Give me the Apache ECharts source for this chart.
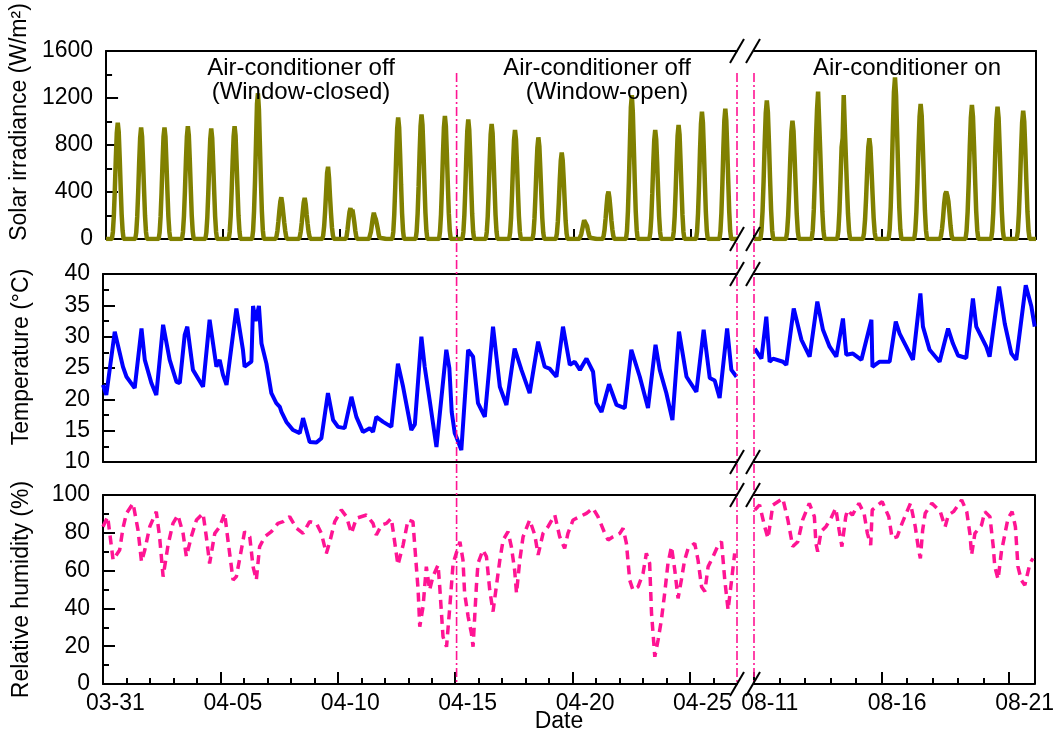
<!DOCTYPE html>
<html>
<head>
<meta charset="utf-8">
<script src="https://cdn.jsdelivr.net/npm/echarts@6/dist/echarts.min.js"></script>
<style>html,body{margin:0;padding:0;background:#fff}#c{width:1057px;height:734px}</style>
</head>
<body>
<div id="c"></div>
<script>
// ---------------- DATA ----------------
// x values are fractional days: left section from 03-31 00:00, right section from 08-11 00:00
const LEFT_DAYS = 27;
const RIGHT_DAYS = 11;
const LEFT_TICKS = [0, 5, 10, 15, 20, 25];
const LEFT_LABELS = ['03-31', '04-05', '04-10', '04-15', '04-20', '04-25'];
const RIGHT_TICKS = [0, 5, 10];
const RIGHT_LABELS = ['08-11', '08-16', '08-21'];
const PHASE_SPLIT_DAY = 15; // window-closed -> window-open

// solar irradiance (W/m2), hourly values 06:00..18:00 per day
const IRR_HOURS = [6, 7, 8, 9, 10, 11, 12, 13, 14, 15, 16, 17, 18];
const irrLeft = [
  [0,60,200,420,680,900,990,910,690,440,210,70,0],
  [0,55,190,400,650,860,950,870,660,420,200,60,0],
  [0,55,190,400,650,870,950,870,650,410,190,60,0],
  [0,60,195,410,660,870,960,880,670,430,200,65,0],
  [0,55,185,395,640,850,940,860,650,415,195,60,0],
  [0,60,195,410,660,870,960,880,660,425,200,65,0],
  [0,70,240,500,820,1150,1240,1100,800,500,240,75,0],
  [0,20,70,150,240,320,355,300,220,140,70,20,0],
  [0,20,65,140,230,310,350,300,210,130,60,20,0],
  [0,30,110,240,400,560,615,520,360,220,100,30,0],
  [0,20,80,160,230,263,220,250,200,140,70,20,0],
  [0,15,60,120,180,224,190,170,130,90,40,10,0],
  [0,60,210,440,710,940,1035,950,720,460,220,70,0],
  [0,65,215,450,730,960,1060,970,740,470,225,70,0],
  [0,65,210,445,720,950,1047,960,730,465,220,70,0],
  [0,60,205,430,700,920,1018,930,710,450,215,65,0],
  [0,60,195,415,670,890,979,900,680,435,205,65,0],
  [0,55,185,390,640,840,928,850,650,410,195,60,0],
  [0,50,175,365,595,780,865,790,600,385,180,55,0],
  [0,45,150,310,505,665,735,670,510,325,155,45,0],
  [0,10,40,80,120,160,176,150,110,70,35,10,0],
  [0,25,80,170,280,370,403,350,260,160,80,25,0],
  [0,70,240,500,810,1120,1225,1080,790,490,235,75,0],
  [0,55,185,390,640,840,928,850,650,410,195,60,0],
  [0,60,195,410,670,880,970,890,670,430,205,60,0],
  [0,65,220,460,750,980,1083,990,750,480,230,70,0],
  [0,65,225,470,770,1010,1110,1010,770,490,235,70,0]
];
const irrRight = [
  [0,70,235,495,810,1070,1180,1080,820,520,250,75,0],
  [0,60,200,420,690,910,1007,920,700,450,215,65,0],
  [0,75,250,520,850,1100,1254,1000,750,480,230,70,0],
  [0,70,240,500,780,860,1225,950,700,450,215,65,0],
  [0,50,170,360,590,780,857,780,590,380,180,55,0],
  [0,80,275,570,930,1250,1376,1220,900,570,270,80,0],
  [0,70,230,480,790,1040,1149,1050,800,510,245,75,0],
  [0,25,85,180,300,380,403,370,320,220,110,30,0],
  [0,70,230,480,785,1030,1140,1040,790,505,240,75,0],
  [0,65,225,470,775,1020,1126,1030,780,500,240,70,0],
  [0,65,220,460,750,990,1092,1000,760,485,230,70,0]
];

// indoor temperature (°C): [day, value]
const tempLeft = [
  [0.00,22.3],[0.14,20.7],[0.50,30.8],[0.85,25.2],[1.00,23.6],[1.35,21.8],[1.64,31.3],[1.78,26.3],
  [2.06,22.6],[2.27,20.7],[2.56,31.9],[2.84,26.3],[3.13,22.8],[3.27,22.6],[3.48,30.3],[3.59,31.6],
  [3.83,24.7],[4.26,22.0],[4.54,32.7],[4.83,25.2],[4.97,26.3],[5.11,23.9],[5.26,22.3],[5.68,34.5],
  [5.96,27.9],[6.03,25.2],[6.32,26.0],[6.39,34.9],[6.50,32.5],[6.64,34.9],[6.75,28.9],[6.96,25.7],
  [7.17,21.0],[7.38,19.4],[7.53,18.8],[7.60,18.0],[7.81,16.4],[8.09,15.1],[8.38,14.6],[8.52,17.0],
  [8.66,15.1],[8.80,13.2],[9.09,13.1],[9.30,13.8],[9.58,21.0],[9.80,16.7],[10.01,15.6],[10.29,15.4],
  [10.58,20.4],[10.79,17.2],[11.07,14.8],[11.36,15.4],[11.50,14.8],[11.64,17.2],[11.93,16.4],[12.28,15.6],
  [12.56,25.7],[12.78,22.0],[13.13,15.1],[13.28,16.0],[13.56,30.0],[13.70,25.2],[13.91,19.9],[14.20,12.4],
  [14.62,27.9],[14.75,25.0],[14.85,18.0],[14.98,14.6],[15.05,14.0],[15.26,11.9],[15.55,27.9],[15.76,26.8],
  [15.97,19.4],[16.26,17.2],[16.61,31.6],[16.90,22.0],[17.18,19.1],[17.53,28.1],[17.82,24.7],[18.17,21.0],
  [18.53,29.2],[18.81,25.2],[19.02,24.9],[19.31,23.6],[19.59,31.6],[19.88,25.5],[20.09,26.0],[20.31,24.7],
  [20.59,26.5],[20.87,24.4],[21.01,19.4],[21.23,18.0],[21.55,22.4],[21.87,19.1],[22.22,18.6],[22.50,27.9],
  [22.86,23.6],[23.21,18.6],[23.53,28.7],[23.71,24.7],[23.99,21.0],[24.25,16.7],[24.53,30.8],[24.85,23.6],
  [25.27,21.2],[25.58,31.1],[25.84,23.4],[26.05,23.0],[26.26,20.2],[26.58,31.3],[26.76,24.7],[26.98,23.6]
];
const tempRight = [
  [0.03,28.1],[0.29,26.5],[0.48,33.2],[0.61,26.0],[0.74,26.5],[1.13,26.0],[1.26,25.5],[1.55,34.5],
  [1.85,29.5],[2.17,26.8],[2.47,35.6],[2.69,31.1],[2.95,28.4],[3.21,26.8],[3.47,32.9],[3.60,27.1],
  [3.86,27.3],[4.19,26.3],[4.58,32.7],[4.62,25.2],[4.90,26.0],[5.29,26.0],[5.53,32.4],[5.68,30.5],
  [5.94,28.4],[6.20,26.3],[6.49,36.9],[6.59,31.6],[6.85,27.9],[7.24,26.0],[7.57,31.3],[7.76,28.9],
  [7.96,27.0],[8.28,26.6],[8.54,36.1],[8.67,31.6],[9.06,28.4],[9.19,26.8],[9.56,38.0],[9.78,32.1],
  [10.04,27.3],[10.23,26.3],[10.60,38.2],[10.82,34.8],[10.95,31.6]
];

// relative humidity (%): [day, value]
const rhLeft = [
  [0.00,83.2],[0.20,88.5],[0.43,65.6],[0.71,70.9],[0.85,82.4],[1.00,90.3],[1.28,95.6],[1.49,81.5],
  [1.64,64.7],[1.78,70.9],[1.99,83.2],[2.27,91.2],[2.41,77.9],[2.56,56.8],[2.77,73.5],[2.98,85.0],
  [3.19,89.4],[3.41,79.7],[3.55,67.4],[3.76,77.9],[3.98,86.8],[4.26,90.3],[4.40,77.9],[4.54,63.8],
  [4.76,79.7],[4.97,83.2],[5.18,90.3],[5.32,76.2],[5.54,55.0],[5.68,56.8],[5.89,70.9],[6.03,80.6],
  [6.25,77.9],[6.39,62.1],[6.53,55.0],[6.67,72.7],[6.89,77.9],[7.17,80.6],[7.45,85.0],[7.67,85.9],
  [7.95,88.5],[8.24,82.4],[8.52,79.7],[8.80,85.9],[9.09,85.0],[9.30,79.7],[9.51,69.1],[9.66,75.3],
  [9.87,85.9],[10.15,92.1],[10.37,88.5],[10.58,79.7],[10.79,87.7],[11.22,89.4],[11.50,85.0],[11.64,78.8],
  [11.86,84.1],[12.07,85.0],[12.28,87.7],[12.42,75.3],[12.56,63.0],[12.78,73.5],[12.99,86.8],[13.20,85.9],
  [13.42,49.7],[13.49,30.3],[13.63,40.9],[13.77,62.1],[13.91,49.7],[14.05,56.8],[14.27,63.0],[14.34,51.5],
  [14.48,25.0],[14.63,19.7],[14.77,40.9],[14.91,63.8],[15.20,75.3],[15.33,65.6],[15.40,48.0],[15.55,35.6],
  [15.69,26.8],[15.76,19.7],[15.90,51.5],[15.97,63.8],[16.18,70.9],[16.33,67.4],[16.47,49.7],[16.61,38.3],
  [16.75,51.5],[16.90,65.6],[17.04,76.2],[17.25,80.6],[17.39,72.7],[17.53,60.3],[17.61,48.0],[17.75,65.6],
  [17.89,77.9],[18.17,86.8],[18.39,78.8],[18.53,68.3],[18.74,79.7],[18.95,83.2],[19.24,89.4],[19.45,77.9],
  [19.66,71.8],[19.80,79.7],[20.02,86.8],[20.30,88.5],[20.59,90.3],[20.87,93.0],[21.08,88.5],[21.37,79.7],
  [21.51,76.2],[21.72,77.9],[22.01,79.7],[22.15,82.4],[22.29,74.4],[22.43,55.0],[22.57,49.7],[22.79,51.5],
  [23.00,58.6],[23.14,69.1],[23.28,63.8],[23.36,37.4],[23.50,14.4],[23.64,23.3],[23.78,33.9],[23.92,48.0],
  [24.06,63.8],[24.21,72.7],[24.35,60.3],[24.49,45.3],[24.63,55.0],[24.77,65.6],[24.92,71.8],[25.20,74.4],
  [25.34,65.6],[25.49,51.5],[25.63,48.9],[25.77,62.1],[25.98,67.4],[26.20,73.5],[26.34,75.3],[26.48,55.0],
  [26.62,39.2],[26.77,55.0],[26.90,69.1]
];
const rhRight = [
  [0.03,92.1],[0.22,94.7],[0.42,83.2],[0.55,77.1],[0.74,94.7],[1.13,98.2],[1.33,86.8],[1.52,72.7],
  [1.72,75.3],[1.91,86.8],[2.17,95.6],[2.37,88.5],[2.43,74.4],[2.50,70.0],[2.63,80.6],[2.82,83.2],
  [3.02,87.7],[3.21,93.0],[3.34,81.5],[3.45,72.7],[3.60,88.5],[3.67,92.1],[3.86,89.4],[4.12,95.6],
  [4.32,90.3],[4.45,79.7],[4.58,73.5],[4.64,92.1],[5.03,96.5],[5.29,88.5],[5.42,77.1],[5.62,77.9],
  [5.81,85.0],[6.14,95.6],[6.33,83.2],[6.46,70.9],[6.53,66.5],[6.62,81.5],[6.72,90.3],[6.98,95.6],
  [7.31,91.2],[7.50,83.2],[7.63,89.4],[7.83,91.2],[8.15,97.4],[8.35,91.2],[8.48,78.8],[8.54,68.3],
  [8.67,79.7],[8.93,84.1],[9.06,91.2],[9.26,88.5],[9.39,72.7],[9.45,62.1],[9.58,55.4],[9.71,70.0],
  [9.84,78.8],[9.97,87.7],[10.13,91.2],[10.26,83.2],[10.36,62.1],[10.49,55.0],[10.63,52.3],[10.83,63.8],
  [10.95,66.5]
];

// ---------------- CHART ----------------
const FONT = "'Liberation Sans', Arial, Helvetica, sans-serif";
const BLACK = '#000';
const OLIVE = '#808000';
const BLUE = '#0000FF';
const PINK = '#FF1493';

const LAYOUT = {
  xL: 103, wL: 634, xR: 754, wR: 282,
  tops: [51, 274, 495], heights: [188, 188, 189]
};

function irrToPoints(days) {
  const pts = [];
  days.forEach((vals, d) => {
    pts.push([d, 0]);
    vals.forEach((v, k) => pts.push([d + IRR_HOURS[k] / 24, v]));
  });
  pts.push([days.length, 0]);
  return pts;
}

const PANELS = [
  { min: 0, max: 1600, interval: 400, name: 'Solar irradiance (W/m\u00B2)', shift: 46,
    left: irrToPoints(irrLeft), right: irrToPoints(irrRight), color: OLIVE, width: 4.5, dash: 'solid', xTickLen: 10 },
  { min: 10, max: 40, interval: 5, name: 'Temperature (\u00B0C)', shift: 22,
    left: tempLeft, right: tempRight, color: BLUE, width: 4, dash: 'solid', xTickLen: 0 },
  { min: 0, max: 100, interval: 20, name: 'Relative humidity (%)', shift: 0,
    left: rhLeft, right: rhRight, color: PINK, width: 3.5, dash: [9, 6], xTickLen: 12 }
];

const axisLine = { show: true, onZero: false, lineStyle: { color: BLACK, width: 2 } };
const tickLine = { color: BLACK, width: 2 };

function minorDays(n) {
  const out = [];
  for (let i = 1; i < n; i++) if (i % 5 !== 0) out.push(i);
  return out;
}

const grids = [], xAxes = [], yAxes = [], series = [];
const bottomAxisIdx = {};

PANELS.forEach((P, p) => {
  [0, 1].forEach(s => {
    const gi = grids.length;
    const isL = s === 0;
    grids.push({
      left: isL ? LAYOUT.xL : LAYOUT.xR,
      width: isL ? LAYOUT.wL : LAYOUT.wR,
      top: LAYOUT.tops[p],
      height: LAYOUT.heights[p],
      containLabel: false
    });
    const maxX = isL ? LEFT_DAYS : RIGHT_DAYS;
    const ticks = isL ? LEFT_TICKS : RIGHT_TICKS;
    const labels = isL ? LEFT_LABELS : RIGHT_LABELS;
    const lblOff = isL ? 0.53 : 0.62;
    const lblPos = ticks.map(t => t + lblOff);

    bottomAxisIdx[p + '_' + s] = xAxes.length;
    xAxes.push({
      type: 'value', gridIndex: gi, min: 0, max: maxX, position: 'bottom',
      axisLine: axisLine, splitLine: { show: false },
      axisTick: P.xTickLen ? { show: true, inside: true, length: P.xTickLen, customValues: ticks, lineStyle: tickLine } : { show: false },
      axisLabel: p === 2 ? {
        show: true, customValues: lblPos, color: BLACK, fontSize: 23, fontFamily: FONT, margin: 8,
        formatter: v => {
          let best = 0, bd = 1e9;
          lblPos.forEach((q, i) => { const d = Math.abs(q - v); if (d < bd) { bd = d; best = i; } });
          return labels[best];
        }
      } : { show: false }
    });
    xAxes.push({
      type: 'value', gridIndex: gi, min: 0, max: maxX, position: 'top',
      axisLine: axisLine, axisTick: { show: false }, axisLabel: { show: false }, splitLine: { show: false }
    });
    if (p === 2) {
      xAxes.push({
        type: 'value', gridIndex: gi, min: 0, max: maxX, position: 'bottom', offset: 0,
        axisLine: { show: false }, axisLabel: { show: false }, splitLine: { show: false },
        axisTick: { show: true, inside: true, length: 6, customValues: minorDays(maxX), lineStyle: tickLine }
      });
    }
    const yIdx = yAxes.length;
    if (isL) {
      yAxes.push({
        type: 'value', gridIndex: gi, min: P.min, max: P.max, interval: P.interval, position: 'left',
        axisLine: axisLine, splitLine: { show: false },
        axisTick: { show: true, inside: true, length: 12, lineStyle: tickLine },
        minorTick: { show: true, splitNumber: 2, length: 6, lineStyle: tickLine },
        minorSplitLine: { show: false },
        axisLabel: { color: BLACK, fontSize: 23, fontFamily: FONT, margin: 13, formatter: v => String(v) },
        name: P.name, nameLocation: 'middle', nameGap: 70,
        nameTextStyle: { color: BLACK, fontSize: 23, fontFamily: FONT, padding: [0, 0, 0, P.shift] }
      });
    } else {
      yAxes.push({
        type: 'value', gridIndex: gi, min: P.min, max: P.max, interval: P.interval, position: 'right',
        axisLine: axisLine, splitLine: { show: false },
        axisTick: { show: false }, axisLabel: { show: false }
      });
    }
    series.push({
      type: 'line', xAxisIndex: bottomAxisIdx[p + '_' + s], yAxisIndex: yIdx,
      data: isL ? P.left : P.right,
      showSymbol: false, symbol: 'none', clip: true, z: 3,
      lineStyle: { color: P.color, width: P.width, type: P.dash },
      animation: false
    });
  });
});

const chart = echarts.init(document.getElementById('c'), null, { renderer: 'canvas' });
chart.setOption({
  animation: false,
  backgroundColor: '#fff',
  textStyle: { fontFamily: FONT },
  grid: grids, xAxis: xAxes, yAxis: yAxes, series: series
});

// ----- decorations positioned from axis scales -----
const ax0 = bottomAxisIdx['0_0'];
const ax1 = bottomAxisIdx['0_1'];
const xSplit = chart.convertToPixel({ xAxisIndex: ax0 }, PHASE_SPLIT_DAY);
const xBreakL = chart.convertToPixel({ xAxisIndex: ax0 }, LEFT_DAYS);
const xBreakR = chart.convertToPixel({ xAxisIndex: ax1 }, 0);
const yTopLine = LAYOUT.tops[0] + 22;
const yBottomLine = LAYOUT.tops[2] + LAYOUT.heights[2];

const graphics = [];
[xSplit, xBreakL, xBreakR].forEach(x => {
  graphics.push({
    type: 'line', z: 50,
    shape: { x1: x, y1: yTopLine, x2: x, y2: yBottomLine },
    style: { stroke: PINK, lineWidth: 1.6, lineDash: [9, 3, 2, 3] }
  });
});
LAYOUT.tops.forEach((t, p) => {
  [t, t + LAYOUT.heights[p]].forEach(y => {
    [xBreakL, xBreakR - 1].forEach(x => {
      graphics.push({
        type: 'line', z: 60,
        shape: { x1: x - 7, y1: y + 12, x2: x + 7, y2: y - 12 },
        style: { stroke: BLACK, lineWidth: 2 }
      });
    });
  });
});
const notes = [
  ['Air-conditioner off', 301, 68], ['(Window-closed)', 301, 92],
  ['Air-conditioner off', 597, 68], ['(Window-open)', 607, 92],
  ['Air-conditioner on', 907, 68]
];
notes.forEach(n => {
  graphics.push({
    type: 'text', z: 70, x: n[1], y: n[2],
    style: { text: n[0], fill: BLACK, font: '24px ' + FONT, textAlign: 'center', textVerticalAlign: 'middle' }
  });
});
graphics.push({
  type: 'text', z: 70, x: 559, y: 722,
  style: { text: 'Date', fill: BLACK, font: '23px ' + FONT, textAlign: 'center', textVerticalAlign: 'middle' }
});
chart.setOption({ graphic: graphics });
</script>
</body>
</html>
